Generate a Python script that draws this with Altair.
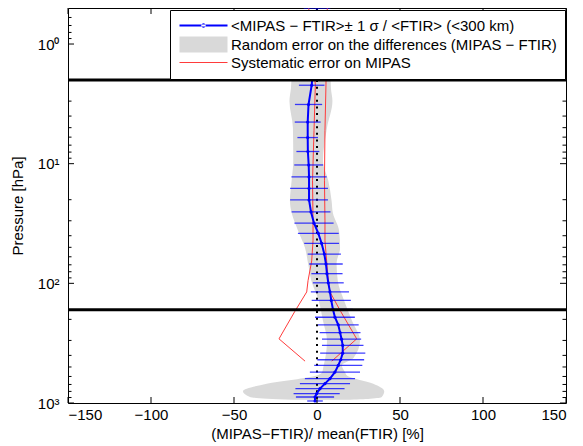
import altair as alt
import pandas as pd

# ---------------- data ----------------
# blue profile: pressure [hPa], mean relative difference [%], 1-sigma [%]
p_prof = [0.5, 0.78, 1.27, 2.21, 3.2, 4.49, 6.05, 7.91, 10.25, 12.9, 16.1, 20.1,
          25.3, 31.4, 38.2, 46.4, 56.9, 68.9, 83, 99, 118, 139, 165, 192, 222,
          258, 293, 330, 383, 435, 485, 552, 626, 689, 759, 835, 891, 962]
mean_prof = [0.0, -0.6, -1.8, -3.2, -5.1, -5.6, -5.6, -5.5, -5.0, -4.8, -4.8, -4.8,
             -3.6, -1.8, 0.8, 2.8, 4.4, 5.4, 6.0, 6.8, 7.8, 8.6, 9.6, 10.8, 12.8,
             13.9, 14.8, 15.5, 15.5, 14.3, 12.8, 10.8, 7.8, 4.8, 1.8, -0.2, -1.2, -1.2]
sd_prof = [8, 8, 8, 7.7, 8.2, 7.8, 6.2, 6.9, 8.7, 10.6, 11.4, 11.4,
           11.7, 11.8, 12.3, 10.5, 10.0, 10.1, 9.4, 9.3, 11.5, 11.8, 12.0, 12.0, 12.3,
           12.3, 11.8, 12.5, 13.6, 14.1, 14.5, 15.1, 15.1, 15.1, 14.8, 13.9, 11.5, 4.7]

# grey band: random error on the differences
g_p = [1.5, 2.34, 3.0, 5.04, 9.5, 13.9, 20.5, 26, 36.3, 50.6, 68, 95, 139, 205,
       300, 420, 485, 555, 589, 691, 796, 889, 920, 940]
g_lo = [-15, -15.7, -16.6, -14.5, -14.3, -15.3, -16.3, -15.2, -11.4, -7.2, -5.4, -3.4,
        1.0, 3.6, 6.0, 5.0, 4.0, 3.0, -0.2, -30.3, -44.6, -40.4, -30, -15]
g_hi = [8, 8.4, 9.3, 6.0, 3.6, 6.8, 8.8, 9.6, 13.3, 13.9, 11.8, 12.5,
        16.3, 21.1, 25.9, 22, 15, 17, 18, 33.9, 40.5, 39, 32, 18]

# red lines: systematic error on MIPAS
r_p = [0.5, 1.0, 2.2, 5.3, 13.9, 30, 44, 65, 95, 118, 172, 291, 447]
r_left = [-5.0, -3.0, -1.0, -1.8, -2.7, -2.4, -2.4, -3.2, -5.4, -6.2, -13.4, -22.9, -7.2]
r_right = [6.2, 5.8, 5.4, 4.8, 4.5, 4.8, 4.8, 5.8, 6.8, 7.8, 14.3, 23.9, 8.9]

bound_p = [2.0, 166.0]
x_ticks = [-150, -100, -50, 0, 50, 100, 150]
y_major = [1, 10, 100, 1000]
y_minor = [0.6, 0.7, 0.8, 0.9, 2, 3, 4, 5, 6, 7, 8, 9, 20, 30, 40, 50, 60, 70, 80, 90,
           200, 300, 400, 500, 600, 700, 800, 900]

LEG = ["<MIPAS − FTIR>± 1 σ / <FTIR> (<300 km)",
       "Random error on the differences (MIPAS − FTIR)",
       "Systematic error on MIPAS"]
BLUE, GREY, RED = "#0000ff", "#d9d9d9", "#ff3b3b"

# ---------------- frames ----------------
prof = pd.DataFrame({"p": p_prof, "mean": mean_prof, "sd": sd_prof})
grey = pd.DataFrame({"p": g_p, "lo": g_lo, "hi": g_hi})
red = pd.concat([
    pd.DataFrame({"p": r_p, "x": r_left, "side": "left"}),
    pd.DataFrame({"p": r_p, "x": r_right, "side": "right"}),
])
bounds = pd.DataFrame({"p": bound_p})
zero = pd.DataFrame({"x": [0], "p1": [2.0], "p2": [1000.0]})
xt = pd.DataFrame({"v": x_ticks})
ymaj = pd.DataFrame({"v": y_major})
ymin = pd.DataFrame({"v": y_minor})
legdf = pd.DataFrame({"series": LEG, "x": [None] * 3, "p": [None] * 3})

W, H = 498, 395
FONT = "Liberation Sans"

xs = alt.Scale(domain=[-150, 150], nice=False, zero=False)
ys = alt.Scale(type="log", domain=[0.5, 1000], reverse=True, nice=False)
xaxis = alt.Axis(values=x_ticks, title="(MIPAS−FTIR)/ mean(FTIR) [%]", labelPadding=4,
                 titlePadding=4)
yaxis = alt.Axis(values=y_major, title="Pressure [hPa]", labelPadding=9, titlePadding=12,
                 labelExpr="datum.value == 1 ? '10⁰' : datum.value == 10 ? '10¹' : "
                           "datum.value == 100 ? '10²' : '10³'")


def X(f):
    return alt.X(f, scale=xs, axis=xaxis)


def Y(f):
    return alt.Y(f, scale=ys, axis=yaxis)


area = alt.Chart(grey).mark_area(fill=GREY, opacity=1, interpolate="monotone",
                                 orient="horizontal").encode(
    x=alt.X("lo:Q", scale=xs, axis=xaxis, stack=None), x2="hi:Q", y=Y("p:Q"))

dotted = alt.Chart(zero).mark_rule(color="black", strokeWidth=2,
                                   strokeDash=[2, 4.6]).encode(
    x=X("x:Q"), y=Y("p1:Q"), y2="p2:Q")

redl = alt.Chart(red).mark_line(strokeWidth=1, color=RED).encode(
    x=X("x:Q"), y=Y("p:Q"), detail="side:N", order="p:Q")

bars = alt.Chart(prof).transform_calculate(
    lo="datum.mean - datum.sd", hi="datum.mean + datum.sd"
).mark_rule(color=BLUE, strokeWidth=1.3, opacity=0.75).encode(
    x=X("lo:Q"), x2="hi:Q", y=Y("p:Q"))

line = alt.Chart(prof).mark_line(
    color=BLUE, strokeWidth=2,
    point=alt.OverlayMarkDef(filled=True, size=10, color=BLUE)
).encode(x=X("mean:Q"), y=Y("p:Q"), order="p:Q")

thick = alt.Chart(bounds).mark_rule(color="black", strokeWidth=3).encode(
    y=Y("p:Q"), x=alt.value(0), x2=alt.value(W))

# legend: one merged legend (colour + shape of the same field), all shapes filled
SH_LINE_DOT = ("M-12,-0.5H12V0.5H-12Z"
               "M-1.1,0A1.1,1.1,0,1,0,1.1,0A1.1,1.1,0,1,0,-1.1,0Z")
SH_RECT = "M-12,-4H12V4H-12Z"
SH_LINE = "M-12,-0.3H12V0.3H-12Z"
legend = alt.Legend(
    title=None, orient="none", legendX=102, legendY=2, zindex=1,
    symbolSize=16, symbolOffset=18, labelOffset=20, symbolStrokeWidth=0,
    labelFontSize=15, labelFont=FONT, labelColor="black", labelLimit=600,
    padding=8, rowPadding=2, fillColor="white", strokeColor="black",
)
leg = alt.Chart(legdf).mark_point(filled=True, opacity=1, strokeWidth=0).encode(
    x=X("x:Q"), y=Y("p:Q"),
    color=alt.Color("series:N", scale=alt.Scale(domain=LEG, range=[BLUE, GREY, RED]),
                    legend=legend),
    shape=alt.Shape("series:N", scale=alt.Scale(domain=LEG, range=[SH_LINE_DOT, SH_RECT, SH_LINE]),
                    legend=legend),
)

tk = dict(color="black", strokeWidth=1)
t1 = alt.Chart(ymaj).mark_rule(**tk).encode(y=Y("v:Q"), x=alt.value(0), x2=alt.value(6))
t2 = alt.Chart(ymaj).mark_rule(**tk).encode(y=Y("v:Q"), x=alt.value(W - 6), x2=alt.value(W))
t3 = alt.Chart(ymin).mark_rule(**tk).encode(y=Y("v:Q"), x=alt.value(0), x2=alt.value(3.5))
t4 = alt.Chart(ymin).mark_rule(**tk).encode(y=Y("v:Q"), x=alt.value(W - 3.5), x2=alt.value(W))
t5 = alt.Chart(xt).mark_rule(**tk).encode(x=X("v:Q"), y=alt.value(H - 6), y2=alt.value(H))
t6 = alt.Chart(xt).mark_rule(**tk).encode(x=X("v:Q"), y=alt.value(0), y2=alt.value(6))

chart = alt.layer(area, dotted, redl, bars, line, thick, t1, t2, t3, t4, t5, t6, leg).properties(
    width=W, height=H,
    autosize=alt.AutoSizeParams(type="none"),
    padding={"left": 60, "top": 0, "right": 9, "bottom": 43},
).configure_view(stroke="black", strokeWidth=1).configure_axis(
    labelFont=FONT, labelFontSize=15, labelColor="black",
    titleFont=FONT, titleFontSize=15, titleColor="black", titleFontWeight="normal",
    ticks=False, domain=False, grid=False,
)

chart.save("out.html", embed_options={"renderer": "svg", "actions": False})
